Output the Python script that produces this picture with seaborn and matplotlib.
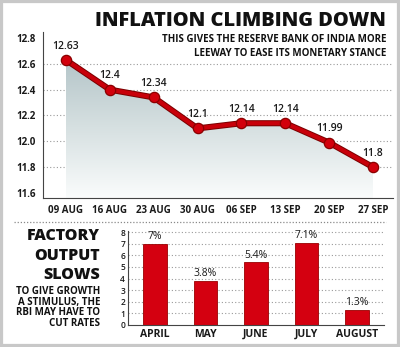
import numpy as np
import pandas as pd
import matplotlib
matplotlib.use("Agg")
import matplotlib.pyplot as plt
import seaborn as sns
from matplotlib import patheffects as pe
from matplotlib.lines import Line2D
from matplotlib.patches import Rectangle
from matplotlib.colors import LinearSegmentedColormap

# ---------------- data ----------------
weeks = ["09 AUG", "16 AUG", "23 AUG", "30 AUG", "06 SEP", "13 SEP", "20 SEP", "27 SEP"]
inflation = [12.63, 12.4, 12.34, 12.1, 12.14, 12.14, 11.99, 11.8]
inflation_labels = ["12.63", "12.4", "12.34", "12.1", "12.14", "12.14", "11.99", "11.8"]
top_ticks = [11.6, 11.8, 12.0, 12.2, 12.4, 12.6, 12.8]

months = ["APRIL", "MAY", "JUNE", "JULY", "AUGUST"]
output_growth = [7.0, 3.8, 5.4, 7.1, 1.3]
output_labels = ["7%", "3.8%", "5.4%", "7.1%", "1.3%"]
bottom_ticks = [0, 1, 2, 3, 4, 5, 6, 7, 8]

sns.set_theme(style="white")
plt.rcParams["font.family"] = ["Open Sans", "DejaVu Sans"]

W, H = 400, 347
fig = plt.figure(figsize=(W / 100, H / 100), dpi=100)
fig.patch.set_facecolor("white")

def fx(px):
    return px / W

def fy(py):
    return 1 - py / H

RED = "#c8000a"
DARK = "#7a0000"
TXT = "#1a1a1a"

# ---------------- top chart ----------------
ax1 = fig.add_axes([fx(43), fy(198), fx(393) - fx(43), fy(32) - fy(198)])
df1 = pd.DataFrame({"pos": np.arange(len(weeks)), "val": inflation})
ylo, yhi = 11.561, 12.8465

poly = ax1.fill_between(df1["pos"], df1["val"], ylo, color="none", lw=0)
cmap = LinearSegmentedColormap.from_list("g", ["#b3c4c8", "#d6e0e1", "#fafcfc"])
grad = np.linspace(0, 1, 256).reshape(-1, 1)
im = ax1.imshow(grad, cmap=cmap, extent=(0, len(weeks) - 1, ylo, max(inflation) + 0.02),
                aspect="auto", origin="upper", zorder=1)
im.set_clip_path(poly.get_paths()[0], transform=ax1.transData)

for t in top_ticks[1:-1]:
    ax1.axhline(t, color="#9a9a9a", ls=(0, (1, 2)), lw=0.8, zorder=0.5)

sns.lineplot(data=df1, x="pos", y="val", ax=ax1, color=RED, lw=3.0, sort=False, zorder=3,
             path_effects=[pe.Stroke(linewidth=4.4, foreground=DARK), pe.Normal()])
sns.scatterplot(data=df1, x="pos", y="val", ax=ax1, s=55, color="#d2000c",
                edgecolor="#8a0000", linewidth=0.9, zorder=4, legend=False)

for i, (v, lbl) in enumerate(zip(inflation, inflation_labels)):
    ax1.annotate(lbl, (i, v), xytext=(0, 10), textcoords="offset points",
                 ha="center", va="center", fontsize=7.5, fontweight="semibold", color=TXT)

ax1.set_xlim(-0.524, 7.456)
ax1.set_ylim(ylo, yhi)
ax1.set_xticks(range(len(weeks)))
ax1.set_xticklabels(weeks, fontsize=7, fontweight="bold", color=TXT)
ax1.set_yticks(top_ticks)
ax1.set_yticklabels([f"{t:.1f}" for t in top_ticks], fontsize=7, fontweight="bold", color=TXT)
ax1.tick_params(axis="both", length=0)
ax1.tick_params(axis="x", pad=5)
ax1.tick_params(axis="y", pad=5)
ax1.set_xlabel("")
ax1.set_ylabel("")
for s in ["top", "right"]:
    ax1.spines[s].set_visible(False)
for s in ["left", "bottom"]:
    ax1.spines[s].set_color("#444444")
    ax1.spines[s].set_linewidth(0.8)
ax1.set_facecolor("none")

# title and subtitle
fig.text(fx(386), fy(20.5), "INFLATION CLIMBING DOWN", ha="right", va="center",
         fontsize=14.4, fontweight="heavy", color="#111111")
fig.text(fx(386), fy(40), "THIS GIVES THE RESERVE BANK OF INDIA MORE", ha="right", va="center",
         fontsize=7, fontweight="bold", color="#111111")
fig.text(fx(386), fy(53), "LEEWAY TO EASE ITS MONETARY STANCE", ha="right", va="center",
         fontsize=7, fontweight="bold", color="#111111")

# separator
fig.add_artist(Line2D([fx(14), fx(386)], [fy(222), fy(222)], transform=fig.transFigure,
                      ls=(0, (1, 1.5)), color="#8a8a8a", lw=0.9))

# ---------------- bottom chart ----------------
ax2 = fig.add_axes([fx(128), fy(325), fx(384) - fx(128), fy(231) - fy(325)])
for t in bottom_ticks[1:]:
    ax2.axhline(t, color="#9a9a9a", ls=(0, (1, 2)), lw=0.8, zorder=0)
sns.barplot(x=months, y=output_growth, ax=ax2, color="#d40010", saturation=1, width=0.47,
            edgecolor="#9a0000", linewidth=0.6, zorder=2)
for i, (v, lbl) in enumerate(zip(output_growth, output_labels)):
    ax2.annotate(lbl, (i, v), xytext=(0, 5), textcoords="offset points",
                 ha="center", va="center", fontsize=7.5, color=TXT)
ax2.set_xlim(-0.53, 4.53)
ax2.set_ylim(0, 8.1)
ax2.set_yticks(bottom_ticks)
ax2.set_yticklabels([str(t) for t in bottom_ticks], fontsize=6, fontweight="semibold", color=TXT)
ax2.set_xticks(range(len(months)))
ax2.set_xticklabels(months, fontsize=7.5, fontweight="bold", color=TXT)
ax2.tick_params(axis="both", length=0)
ax2.tick_params(axis="y", pad=2)
ax2.tick_params(axis="x", pad=3)
for s in ["top", "right"]:
    ax2.spines[s].set_visible(False)
for s in ["left", "bottom"]:
    ax2.spines[s].set_color("#444444")
    ax2.spines[s].set_linewidth(0.8)
ax2.set_facecolor("none")

# left side text
for txt, y in [("FACTORY", 236), ("OUTPUT", 256), ("SLOWS", 275)]:
    fig.text(fx(100), fy(y), txt, ha="right", va="center", fontsize=11.5,
             fontweight="heavy", color="#111111")
for txt, y in [("TO GIVE GROWTH", 291), ("A STIMULUS, THE", 302),
               ("RBI MAY HAVE TO", 312.5), ("CUT RATES", 323)]:
    fig.text(fx(100), fy(y), txt, ha="right", va="center", fontsize=7,
             fontweight="bold", color="#111111")

# frame
fig.add_artist(Rectangle((0, 0), 1, 1, transform=fig.transFigure, fill=False,
                         ec="#c8c8c8", lw=4.5))

fig.savefig("out.png", dpi=100)
